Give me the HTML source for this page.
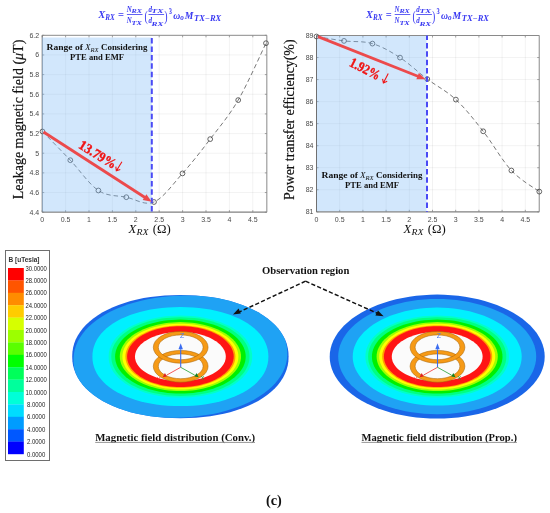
<!DOCTYPE html><html><head><meta charset="utf-8"><style>html,body{margin:0;padding:0;background:#fff;}svg{display:block;filter:blur(0.3px);}</style></head><body>
<svg width="550" height="513" viewBox="0 0 550 513">
<rect width="550" height="513" fill="#fff"/>
<path d="M65.60,35.30V212.20 M89.00,35.30V212.20 M112.40,35.30V212.20 M135.80,35.30V212.20 M159.20,35.30V212.20 M182.60,35.30V212.20 M206.00,35.30V212.20 M229.40,35.30V212.20 M252.80,35.30V212.20 M42.20,192.54H266.84 M42.20,172.89H266.84 M42.20,153.23H266.84 M42.20,133.58H266.84 M42.20,113.92H266.84 M42.20,94.27H266.84 M42.20,74.61H266.84 M42.20,54.96H266.84" stroke="rgba(0,0,0,0.065)" stroke-width="0.8" fill="none"/>
<path d="M42.20,212.20v-2 M42.20,35.30v2 M65.60,212.20v-2 M65.60,35.30v2 M89.00,212.20v-2 M89.00,35.30v2 M112.40,212.20v-2 M112.40,35.30v2 M135.80,212.20v-2 M135.80,35.30v2 M159.20,212.20v-2 M159.20,35.30v2 M182.60,212.20v-2 M182.60,35.30v2 M206.00,212.20v-2 M206.00,35.30v2 M229.40,212.20v-2 M229.40,35.30v2 M252.80,212.20v-2 M252.80,35.30v2 M42.20,212.20h2 M266.84,212.20h-2 M42.20,192.54h2 M266.84,192.54h-2 M42.20,172.89h2 M266.84,172.89h-2 M42.20,153.23h2 M266.84,153.23h-2 M42.20,133.58h2 M266.84,133.58h-2 M42.20,113.92h2 M266.84,113.92h-2 M42.20,94.27h2 M266.84,94.27h-2 M42.20,74.61h2 M266.84,74.61h-2 M42.20,54.96h2 M266.84,54.96h-2 M42.20,35.30h2 M266.84,35.30h-2" stroke="#8a8a8a" stroke-width="0.8" fill="none"/>
<path d="M42.20,35.30H266.84V212.20" stroke="#8a8a8a" stroke-width="1" fill="none"/>
<path d="M42.20,212.20H266.84" stroke="#808080" stroke-width="1.2" fill="none"/>
<path d="M42.20,35.30V212.20" stroke="#707070" stroke-width="1" fill="none"/>
<text x="39.2" y="214.70" font-family='"Liberation Sans", sans-serif' font-size="7" fill="#4a4a4a" font-weight="normal" font-style="normal" text-anchor="end" >4.4</text>
<text x="39.2" y="195.04" font-family='"Liberation Sans", sans-serif' font-size="7" fill="#4a4a4a" font-weight="normal" font-style="normal" text-anchor="end" >4.6</text>
<text x="39.2" y="175.39" font-family='"Liberation Sans", sans-serif' font-size="7" fill="#4a4a4a" font-weight="normal" font-style="normal" text-anchor="end" >4.8</text>
<text x="39.2" y="155.73" font-family='"Liberation Sans", sans-serif' font-size="7" fill="#4a4a4a" font-weight="normal" font-style="normal" text-anchor="end" >5</text>
<text x="39.2" y="136.08" font-family='"Liberation Sans", sans-serif' font-size="7" fill="#4a4a4a" font-weight="normal" font-style="normal" text-anchor="end" >5.2</text>
<text x="39.2" y="116.42" font-family='"Liberation Sans", sans-serif' font-size="7" fill="#4a4a4a" font-weight="normal" font-style="normal" text-anchor="end" >5.4</text>
<text x="39.2" y="96.77" font-family='"Liberation Sans", sans-serif' font-size="7" fill="#4a4a4a" font-weight="normal" font-style="normal" text-anchor="end" >5.6</text>
<text x="39.2" y="77.11" font-family='"Liberation Sans", sans-serif' font-size="7" fill="#4a4a4a" font-weight="normal" font-style="normal" text-anchor="end" >5.8</text>
<text x="39.2" y="57.46" font-family='"Liberation Sans", sans-serif' font-size="7" fill="#4a4a4a" font-weight="normal" font-style="normal" text-anchor="end" >6</text>
<text x="39.2" y="37.80" font-family='"Liberation Sans", sans-serif' font-size="7" fill="#4a4a4a" font-weight="normal" font-style="normal" text-anchor="end" >6.2</text>
<text x="42.20" y="221.90" font-family='"Liberation Sans", sans-serif' font-size="7" fill="#4a4a4a" font-weight="normal" font-style="normal" text-anchor="middle" >0</text>
<text x="65.60" y="221.90" font-family='"Liberation Sans", sans-serif' font-size="7" fill="#4a4a4a" font-weight="normal" font-style="normal" text-anchor="middle" >0.5</text>
<text x="89.00" y="221.90" font-family='"Liberation Sans", sans-serif' font-size="7" fill="#4a4a4a" font-weight="normal" font-style="normal" text-anchor="middle" >1</text>
<text x="112.40" y="221.90" font-family='"Liberation Sans", sans-serif' font-size="7" fill="#4a4a4a" font-weight="normal" font-style="normal" text-anchor="middle" >1.5</text>
<text x="135.80" y="221.90" font-family='"Liberation Sans", sans-serif' font-size="7" fill="#4a4a4a" font-weight="normal" font-style="normal" text-anchor="middle" >2</text>
<text x="159.20" y="221.90" font-family='"Liberation Sans", sans-serif' font-size="7" fill="#4a4a4a" font-weight="normal" font-style="normal" text-anchor="middle" >2.5</text>
<text x="182.60" y="221.90" font-family='"Liberation Sans", sans-serif' font-size="7" fill="#4a4a4a" font-weight="normal" font-style="normal" text-anchor="middle" >3</text>
<text x="206.00" y="221.90" font-family='"Liberation Sans", sans-serif' font-size="7" fill="#4a4a4a" font-weight="normal" font-style="normal" text-anchor="middle" >3.5</text>
<text x="229.40" y="221.90" font-family='"Liberation Sans", sans-serif' font-size="7" fill="#4a4a4a" font-weight="normal" font-style="normal" text-anchor="middle" >4</text>
<text x="252.80" y="221.90" font-family='"Liberation Sans", sans-serif' font-size="7" fill="#4a4a4a" font-weight="normal" font-style="normal" text-anchor="middle" >4.5</text>
<path d="M42.50,131.50 C47.13,136.28 60.98,150.37 70.30,160.20 C79.62,170.03 89.07,184.33 98.40,190.50 C107.73,196.67 117.03,195.28 126.30,197.20 C135.57,199.12 144.63,205.97 154.00,202.00 C163.37,198.03 173.13,183.88 182.50,173.40 C191.87,162.92 200.92,151.32 210.20,139.10 C219.48,126.88 228.90,116.08 238.20,100.10 C247.50,84.12 261.37,52.68 266.00,43.20" stroke="#555" stroke-width="0.8" fill="none" stroke-dasharray="4.5 3"/>
<circle cx="42.5" cy="131.5" r="2.4" stroke="#404040" stroke-width="0.8" fill="none"/>
<circle cx="70.3" cy="160.2" r="2.4" stroke="#404040" stroke-width="0.8" fill="none"/>
<circle cx="98.4" cy="190.5" r="2.4" stroke="#404040" stroke-width="0.8" fill="none"/>
<circle cx="126.3" cy="197.2" r="2.4" stroke="#404040" stroke-width="0.8" fill="none"/>
<circle cx="154" cy="202" r="2.4" stroke="#404040" stroke-width="0.8" fill="none"/>
<circle cx="182.5" cy="173.4" r="2.4" stroke="#404040" stroke-width="0.8" fill="none"/>
<circle cx="210.2" cy="139.1" r="2.4" stroke="#404040" stroke-width="0.8" fill="none"/>
<circle cx="238.2" cy="100.1" r="2.4" stroke="#404040" stroke-width="0.8" fill="none"/>
<circle cx="266" cy="43.2" r="2.4" stroke="#404040" stroke-width="0.8" fill="none"/>
<rect x="42.0" y="37.5" width="109.80000000000001" height="174.1" fill="rgb(126,186,246)" fill-opacity="0.35"/>
<path d="M151.8,35.3V212.2" stroke="#4a4af5" stroke-width="2" stroke-dasharray="5.5 2.9" stroke-dashoffset="5.6" fill="none"/>
<path d="M43.5,132L145.40,197.73" stroke="#ec4a4c" stroke-width="2.8" fill="none"/>
<path d="M151.7,201.8L142.71,200.05L146.40,194.34Z" fill="#ec4a4c"/>
<text transform="translate(22.8,199.2) rotate(-90)" font-family='"Liberation Serif", serif' font-size="14.5" fill="#111" stroke="#111" stroke-width="0.2" textLength="159.5" lengthAdjust="spacingAndGlyphs">Leakage magnetic field (<tspan font-style="italic">μ</tspan>T)</text>
<text x="128.6" y="232.6" font-family='"Liberation Serif", serif' font-size="13" fill="#111" font-weight="normal" font-style="italic" text-anchor="start" textLength="7.8" lengthAdjust="spacingAndGlyphs" >X</text>
<text x="136.4" y="234.6" font-family='"Liberation Serif", serif' font-size="9" fill="#111" font-weight="normal" font-style="italic" text-anchor="start" textLength="12" lengthAdjust="spacingAndGlyphs" >RX</text>
<text x="152.79999999999998" y="232.6" font-family='"Liberation Serif", serif' font-size="13" fill="#111" font-weight="normal" font-style="normal" text-anchor="start" textLength="18" lengthAdjust="spacingAndGlyphs" >(Ω)</text>
<text x="46.5" y="50.2" font-family='"Liberation Serif", serif' font-size="9.2" fill="#111" font-weight="bold" font-style="normal" text-anchor="start" textLength="36.5" lengthAdjust="spacingAndGlyphs" >Range of</text>
<text x="85.0" y="50.2" font-family='"Liberation Serif", serif' font-size="9.2" fill="#111" font-weight="normal" font-style="italic" text-anchor="start" textLength="5.6" lengthAdjust="spacingAndGlyphs" >X</text>
<text x="90.6" y="51.800000000000004" font-family='"Liberation Serif", serif' font-size="6.3" fill="#111" font-weight="normal" font-style="italic" text-anchor="start" textLength="8" lengthAdjust="spacingAndGlyphs" >RX</text>
<text x="101.0" y="50.2" font-family='"Liberation Serif", serif' font-size="9.2" fill="#111" font-weight="bold" font-style="normal" text-anchor="start" textLength="46.5" lengthAdjust="spacingAndGlyphs" >Considering</text>
<text x="97.0" y="60.2" font-family='"Liberation Serif", serif' font-size="9.2" fill="#111" font-weight="bold" font-style="normal" text-anchor="middle" textLength="54" lengthAdjust="spacingAndGlyphs" >PTE and EMF</text>
<g transform="translate(77.8,147.6) rotate(31.5)"><text x="0" y="0" font-family='"Liberation Serif", serif' font-size="13.8" font-weight="bold" fill="#f01515" stroke="#f01515" stroke-width="0.4" textLength="41.5" lengthAdjust="spacingAndGlyphs">13.79%</text><path d="M45,-11 V-0.5 M42.4,-3.6 L45,-0.3 L47.6,-3.6" stroke="#f01515" stroke-width="1.1" fill="none"/></g>
<path d="M339.70,35.50V211.80 M362.90,35.50V211.80 M386.10,35.50V211.80 M409.30,35.50V211.80 M432.50,35.50V211.80 M455.70,35.50V211.80 M478.90,35.50V211.80 M502.10,35.50V211.80 M525.30,35.50V211.80 M316.50,189.76H539.22 M316.50,167.73H539.22 M316.50,145.69H539.22 M316.50,123.65H539.22 M316.50,101.61H539.22 M316.50,79.57H539.22 M316.50,57.54H539.22" stroke="rgba(0,0,0,0.065)" stroke-width="0.8" fill="none"/>
<path d="M316.50,211.80v-2 M316.50,35.50v2 M339.70,211.80v-2 M339.70,35.50v2 M362.90,211.80v-2 M362.90,35.50v2 M386.10,211.80v-2 M386.10,35.50v2 M409.30,211.80v-2 M409.30,35.50v2 M432.50,211.80v-2 M432.50,35.50v2 M455.70,211.80v-2 M455.70,35.50v2 M478.90,211.80v-2 M478.90,35.50v2 M502.10,211.80v-2 M502.10,35.50v2 M525.30,211.80v-2 M525.30,35.50v2 M316.50,211.80h2 M539.22,211.80h-2 M316.50,189.76h2 M539.22,189.76h-2 M316.50,167.73h2 M539.22,167.73h-2 M316.50,145.69h2 M539.22,145.69h-2 M316.50,123.65h2 M539.22,123.65h-2 M316.50,101.61h2 M539.22,101.61h-2 M316.50,79.57h2 M539.22,79.57h-2 M316.50,57.54h2 M539.22,57.54h-2 M316.50,35.50h2 M539.22,35.50h-2" stroke="#8a8a8a" stroke-width="0.8" fill="none"/>
<path d="M316.50,35.50H539.22V211.80" stroke="#8a8a8a" stroke-width="1" fill="none"/>
<path d="M316.50,211.80H539.22" stroke="#808080" stroke-width="1.2" fill="none"/>
<path d="M316.50,35.50V211.80" stroke="#707070" stroke-width="1" fill="none"/>
<text x="313.5" y="214.30" font-family='"Liberation Sans", sans-serif' font-size="7" fill="#4a4a4a" font-weight="normal" font-style="normal" text-anchor="end" >81</text>
<text x="313.5" y="192.26" font-family='"Liberation Sans", sans-serif' font-size="7" fill="#4a4a4a" font-weight="normal" font-style="normal" text-anchor="end" >82</text>
<text x="313.5" y="170.23" font-family='"Liberation Sans", sans-serif' font-size="7" fill="#4a4a4a" font-weight="normal" font-style="normal" text-anchor="end" >83</text>
<text x="313.5" y="148.19" font-family='"Liberation Sans", sans-serif' font-size="7" fill="#4a4a4a" font-weight="normal" font-style="normal" text-anchor="end" >84</text>
<text x="313.5" y="126.15" font-family='"Liberation Sans", sans-serif' font-size="7" fill="#4a4a4a" font-weight="normal" font-style="normal" text-anchor="end" >85</text>
<text x="313.5" y="104.11" font-family='"Liberation Sans", sans-serif' font-size="7" fill="#4a4a4a" font-weight="normal" font-style="normal" text-anchor="end" >86</text>
<text x="313.5" y="82.07" font-family='"Liberation Sans", sans-serif' font-size="7" fill="#4a4a4a" font-weight="normal" font-style="normal" text-anchor="end" >87</text>
<text x="313.5" y="60.04" font-family='"Liberation Sans", sans-serif' font-size="7" fill="#4a4a4a" font-weight="normal" font-style="normal" text-anchor="end" >88</text>
<text x="313.5" y="38.00" font-family='"Liberation Sans", sans-serif' font-size="7" fill="#4a4a4a" font-weight="normal" font-style="normal" text-anchor="end" >89</text>
<text x="316.50" y="221.50" font-family='"Liberation Sans", sans-serif' font-size="7" fill="#4a4a4a" font-weight="normal" font-style="normal" text-anchor="middle" >0</text>
<text x="339.70" y="221.50" font-family='"Liberation Sans", sans-serif' font-size="7" fill="#4a4a4a" font-weight="normal" font-style="normal" text-anchor="middle" >0.5</text>
<text x="362.90" y="221.50" font-family='"Liberation Sans", sans-serif' font-size="7" fill="#4a4a4a" font-weight="normal" font-style="normal" text-anchor="middle" >1</text>
<text x="386.10" y="221.50" font-family='"Liberation Sans", sans-serif' font-size="7" fill="#4a4a4a" font-weight="normal" font-style="normal" text-anchor="middle" >1.5</text>
<text x="409.30" y="221.50" font-family='"Liberation Sans", sans-serif' font-size="7" fill="#4a4a4a" font-weight="normal" font-style="normal" text-anchor="middle" >2</text>
<text x="432.50" y="221.50" font-family='"Liberation Sans", sans-serif' font-size="7" fill="#4a4a4a" font-weight="normal" font-style="normal" text-anchor="middle" >2.5</text>
<text x="455.70" y="221.50" font-family='"Liberation Sans", sans-serif' font-size="7" fill="#4a4a4a" font-weight="normal" font-style="normal" text-anchor="middle" >3</text>
<text x="478.90" y="221.50" font-family='"Liberation Sans", sans-serif' font-size="7" fill="#4a4a4a" font-weight="normal" font-style="normal" text-anchor="middle" >3.5</text>
<text x="502.10" y="221.50" font-family='"Liberation Sans", sans-serif' font-size="7" fill="#4a4a4a" font-weight="normal" font-style="normal" text-anchor="middle" >4</text>
<text x="525.30" y="221.50" font-family='"Liberation Sans", sans-serif' font-size="7" fill="#4a4a4a" font-weight="normal" font-style="normal" text-anchor="middle" >4.5</text>
<path d="M316.50,36.50 C321.08,37.23 334.68,39.72 344.00,40.90 C353.32,42.08 363.07,40.82 372.40,43.60 C381.73,46.38 390.85,51.68 400.00,57.60 C409.15,63.52 417.98,72.10 427.30,79.10 C436.62,86.10 446.58,90.90 455.90,99.60 C465.22,108.30 473.95,119.48 483.20,131.30 C492.45,143.12 502.05,160.45 511.40,170.50 C520.75,180.55 534.65,188.08 539.30,191.60" stroke="#555" stroke-width="0.8" fill="none" stroke-dasharray="4.5 3"/>
<circle cx="316.5" cy="36.5" r="2.4" stroke="#404040" stroke-width="0.8" fill="none"/>
<circle cx="344" cy="40.9" r="2.4" stroke="#404040" stroke-width="0.8" fill="none"/>
<circle cx="372.4" cy="43.6" r="2.4" stroke="#404040" stroke-width="0.8" fill="none"/>
<circle cx="400" cy="57.6" r="2.4" stroke="#404040" stroke-width="0.8" fill="none"/>
<circle cx="427.3" cy="79.1" r="2.4" stroke="#404040" stroke-width="0.8" fill="none"/>
<circle cx="455.9" cy="99.6" r="2.4" stroke="#404040" stroke-width="0.8" fill="none"/>
<circle cx="483.2" cy="131.3" r="2.4" stroke="#404040" stroke-width="0.8" fill="none"/>
<circle cx="511.4" cy="170.5" r="2.4" stroke="#404040" stroke-width="0.8" fill="none"/>
<circle cx="539.3" cy="191.6" r="2.4" stroke="#404040" stroke-width="0.8" fill="none"/>
<rect x="317.0" y="36.0" width="109.5" height="175.20000000000002" fill="rgb(126,186,246)" fill-opacity="0.35"/>
<path d="M427.0,35.5V211.8" stroke="#4a4af5" stroke-width="2" stroke-dasharray="5.5 2.9" stroke-dashoffset="1.0" fill="none"/>
<path d="M318,36.6L418.53,76.53" stroke="#ec4a4c" stroke-width="2.8" fill="none"/>
<path d="M425.5,79.3L416.35,79.32L418.86,73.00Z" fill="#ec4a4c"/>
<text transform="translate(294.4,200.0) rotate(-90)" font-family='"Liberation Serif", serif' font-size="14.5" fill="#111" stroke="#111" stroke-width="0.2" textLength="160.5" lengthAdjust="spacingAndGlyphs">Power transfer efficiency(%)</text>
<text x="403.6" y="232.6" font-family='"Liberation Serif", serif' font-size="13" fill="#111" font-weight="normal" font-style="italic" text-anchor="start" textLength="7.8" lengthAdjust="spacingAndGlyphs" >X</text>
<text x="411.40000000000003" y="234.6" font-family='"Liberation Serif", serif' font-size="9" fill="#111" font-weight="normal" font-style="italic" text-anchor="start" textLength="12" lengthAdjust="spacingAndGlyphs" >RX</text>
<text x="427.8" y="232.6" font-family='"Liberation Serif", serif' font-size="13" fill="#111" font-weight="normal" font-style="normal" text-anchor="start" textLength="18" lengthAdjust="spacingAndGlyphs" >(Ω)</text>
<text x="321.5" y="178.2" font-family='"Liberation Serif", serif' font-size="9.2" fill="#111" font-weight="bold" font-style="normal" text-anchor="start" textLength="36.5" lengthAdjust="spacingAndGlyphs" >Range of</text>
<text x="360.0" y="178.2" font-family='"Liberation Serif", serif' font-size="9.2" fill="#111" font-weight="normal" font-style="italic" text-anchor="start" textLength="5.6" lengthAdjust="spacingAndGlyphs" >X</text>
<text x="365.6" y="179.79999999999998" font-family='"Liberation Serif", serif' font-size="6.3" fill="#111" font-weight="normal" font-style="italic" text-anchor="start" textLength="8" lengthAdjust="spacingAndGlyphs" >RX</text>
<text x="376.0" y="178.2" font-family='"Liberation Serif", serif' font-size="9.2" fill="#111" font-weight="bold" font-style="normal" text-anchor="start" textLength="46.5" lengthAdjust="spacingAndGlyphs" >Considering</text>
<text x="372.0" y="188.2" font-family='"Liberation Serif", serif' font-size="9.2" fill="#111" font-weight="bold" font-style="normal" text-anchor="middle" textLength="54" lengthAdjust="spacingAndGlyphs" >PTE and EMF</text>
<g transform="translate(348.5,65.5) rotate(27)"><text x="0" y="0" font-family='"Liberation Serif", serif' font-size="13.8" font-weight="bold" fill="#f01515" stroke="#f01515" stroke-width="0.4" textLength="32.5" lengthAdjust="spacingAndGlyphs">1.92%</text><path d="M39,-11 V-0.5 M36.4,-3.6 L39,-0.3 L41.6,-3.6" stroke="#f01515" stroke-width="1.1" fill="none"/></g>
<text x="98.30" y="18.00" font-family='"Liberation Serif", serif' font-size="10.8" fill="#3a3af2" font-weight="bold" font-style="italic" text-anchor="start" textLength="7.0" lengthAdjust="spacingAndGlyphs" >X</text>
<text x="105.20" y="20.20" font-family='"Liberation Serif", serif' font-size="7.2" fill="#3a3af2" font-weight="bold" font-style="italic" text-anchor="start" textLength="9.5" lengthAdjust="spacingAndGlyphs" >RX</text>
<text x="118.00" y="18.00" font-family='"Liberation Serif", serif' font-size="10.0" fill="#3a3af2" font-weight="bold" font-style="normal" text-anchor="start" textLength="6.0" lengthAdjust="spacingAndGlyphs" >=</text>
<text x="126.80" y="12.10" font-family='"Liberation Serif", serif' font-size="7.3" fill="#3a3af2" font-weight="bold" font-style="italic" text-anchor="start" textLength="5.0" lengthAdjust="spacingAndGlyphs" >N</text>
<text x="131.60" y="13.30" font-family='"Liberation Serif", serif' font-size="5.8" fill="#3a3af2" font-weight="bold" font-style="italic" text-anchor="start" textLength="10.4" lengthAdjust="spacingAndGlyphs" >RX</text>
<rect x="126.9" y="14.1" width="15.6" height="0.8" fill="#3a3af2"/>
<text x="126.80" y="22.60" font-family='"Liberation Serif", serif' font-size="7.3" fill="#3a3af2" font-weight="bold" font-style="italic" text-anchor="start" textLength="5.0" lengthAdjust="spacingAndGlyphs" >N</text>
<text x="131.60" y="24.90" font-family='"Liberation Serif", serif' font-size="5.8" fill="#3a3af2" font-weight="bold" font-style="italic" text-anchor="start" textLength="10.4" lengthAdjust="spacingAndGlyphs" >TX</text>
<text x="144.60" y="20.90" font-family='"Liberation Serif", serif' font-size="15.5" fill="#3a3af2" font-weight="normal" font-style="normal" text-anchor="start" textLength="3.3" lengthAdjust="spacingAndGlyphs" >(</text>
<text x="148.40" y="12.20" font-family='"Liberation Serif", serif' font-size="7.3" fill="#3a3af2" font-weight="bold" font-style="italic" text-anchor="start" textLength="3.5" lengthAdjust="spacingAndGlyphs" >d</text>
<text x="151.60" y="13.30" font-family='"Liberation Serif", serif' font-size="5.8" fill="#3a3af2" font-weight="bold" font-style="italic" text-anchor="start" textLength="11.8" lengthAdjust="spacingAndGlyphs" >TX</text>
<rect x="148.5" y="14.1" width="15.6" height="0.8" fill="#3a3af2"/>
<text x="148.40" y="23.00" font-family='"Liberation Serif", serif' font-size="7.3" fill="#3a3af2" font-weight="bold" font-style="italic" text-anchor="start" textLength="3.5" lengthAdjust="spacingAndGlyphs" >d</text>
<text x="151.60" y="25.50" font-family='"Liberation Serif", serif' font-size="5.8" fill="#3a3af2" font-weight="bold" font-style="italic" text-anchor="start" textLength="11.8" lengthAdjust="spacingAndGlyphs" >RX</text>
<text x="164.20" y="20.90" font-family='"Liberation Serif", serif' font-size="15.5" fill="#3a3af2" font-weight="normal" font-style="normal" text-anchor="start" textLength="3.3" lengthAdjust="spacingAndGlyphs" >)</text>
<text x="168.80" y="13.80" font-family='"Liberation Serif", serif' font-size="7.6" fill="#3a3af2" font-weight="bold" font-style="normal" text-anchor="start" textLength="3.2" lengthAdjust="spacingAndGlyphs" >3</text>
<text x="173.30" y="18.50" font-family='"Liberation Serif", serif' font-size="10.5" fill="#3a3af2" font-weight="bold" font-style="italic" text-anchor="start" textLength="7.0" lengthAdjust="spacingAndGlyphs" >ω</text>
<text x="180.30" y="20.20" font-family='"Liberation Serif", serif' font-size="7.6" fill="#3a3af2" font-weight="bold" font-style="italic" text-anchor="start" textLength="3.6" lengthAdjust="spacingAndGlyphs" >o</text>
<text x="184.80" y="18.50" font-family='"Liberation Serif", serif' font-size="10.5" fill="#3a3af2" font-weight="bold" font-style="italic" text-anchor="start" textLength="8.6" lengthAdjust="spacingAndGlyphs" >M</text>
<text x="194.00" y="20.50" font-family='"Liberation Serif", serif' font-size="7.2" fill="#3a3af2" font-weight="bold" font-style="italic" text-anchor="start" textLength="27.2" lengthAdjust="spacingAndGlyphs" >TX−RX</text>
<text x="366.10" y="18.00" font-family='"Liberation Serif", serif' font-size="10.8" fill="#3a3af2" font-weight="bold" font-style="italic" text-anchor="start" textLength="7.0" lengthAdjust="spacingAndGlyphs" >X</text>
<text x="373.00" y="20.20" font-family='"Liberation Serif", serif' font-size="7.2" fill="#3a3af2" font-weight="bold" font-style="italic" text-anchor="start" textLength="9.5" lengthAdjust="spacingAndGlyphs" >RX</text>
<text x="385.80" y="18.00" font-family='"Liberation Serif", serif' font-size="10.0" fill="#3a3af2" font-weight="bold" font-style="normal" text-anchor="start" textLength="6.0" lengthAdjust="spacingAndGlyphs" >=</text>
<text x="394.60" y="12.10" font-family='"Liberation Serif", serif' font-size="7.3" fill="#3a3af2" font-weight="bold" font-style="italic" text-anchor="start" textLength="5.0" lengthAdjust="spacingAndGlyphs" >N</text>
<text x="399.40" y="13.30" font-family='"Liberation Serif", serif' font-size="5.8" fill="#3a3af2" font-weight="bold" font-style="italic" text-anchor="start" textLength="10.4" lengthAdjust="spacingAndGlyphs" >RX</text>
<rect x="394.70000000000005" y="14.1" width="15.6" height="0.8" fill="#3a3af2"/>
<text x="394.60" y="22.60" font-family='"Liberation Serif", serif' font-size="7.3" fill="#3a3af2" font-weight="bold" font-style="italic" text-anchor="start" textLength="5.0" lengthAdjust="spacingAndGlyphs" >N</text>
<text x="399.40" y="24.90" font-family='"Liberation Serif", serif' font-size="5.8" fill="#3a3af2" font-weight="bold" font-style="italic" text-anchor="start" textLength="10.4" lengthAdjust="spacingAndGlyphs" >TX</text>
<text x="412.40" y="20.90" font-family='"Liberation Serif", serif' font-size="15.5" fill="#3a3af2" font-weight="normal" font-style="normal" text-anchor="start" textLength="3.3" lengthAdjust="spacingAndGlyphs" >(</text>
<text x="416.20" y="12.20" font-family='"Liberation Serif", serif' font-size="7.3" fill="#3a3af2" font-weight="bold" font-style="italic" text-anchor="start" textLength="3.5" lengthAdjust="spacingAndGlyphs" >d</text>
<text x="419.40" y="13.30" font-family='"Liberation Serif", serif' font-size="5.8" fill="#3a3af2" font-weight="bold" font-style="italic" text-anchor="start" textLength="11.8" lengthAdjust="spacingAndGlyphs" >TX</text>
<rect x="416.3" y="14.1" width="15.6" height="0.8" fill="#3a3af2"/>
<text x="416.20" y="23.00" font-family='"Liberation Serif", serif' font-size="7.3" fill="#3a3af2" font-weight="bold" font-style="italic" text-anchor="start" textLength="3.5" lengthAdjust="spacingAndGlyphs" >d</text>
<text x="419.40" y="25.50" font-family='"Liberation Serif", serif' font-size="5.8" fill="#3a3af2" font-weight="bold" font-style="italic" text-anchor="start" textLength="11.8" lengthAdjust="spacingAndGlyphs" >RX</text>
<text x="432.00" y="20.90" font-family='"Liberation Serif", serif' font-size="15.5" fill="#3a3af2" font-weight="normal" font-style="normal" text-anchor="start" textLength="3.3" lengthAdjust="spacingAndGlyphs" >)</text>
<text x="436.60" y="13.80" font-family='"Liberation Serif", serif' font-size="7.6" fill="#3a3af2" font-weight="bold" font-style="normal" text-anchor="start" textLength="3.2" lengthAdjust="spacingAndGlyphs" >3</text>
<text x="441.10" y="18.50" font-family='"Liberation Serif", serif' font-size="10.5" fill="#3a3af2" font-weight="bold" font-style="italic" text-anchor="start" textLength="7.0" lengthAdjust="spacingAndGlyphs" >ω</text>
<text x="448.10" y="20.20" font-family='"Liberation Serif", serif' font-size="7.6" fill="#3a3af2" font-weight="bold" font-style="italic" text-anchor="start" textLength="3.6" lengthAdjust="spacingAndGlyphs" >o</text>
<text x="452.60" y="18.50" font-family='"Liberation Serif", serif' font-size="10.5" fill="#3a3af2" font-weight="bold" font-style="italic" text-anchor="start" textLength="8.6" lengthAdjust="spacingAndGlyphs" >M</text>
<text x="461.80" y="20.50" font-family='"Liberation Serif", serif' font-size="7.2" fill="#3a3af2" font-weight="bold" font-style="italic" text-anchor="start" textLength="27.2" lengthAdjust="spacingAndGlyphs" >TX−RX</text>
<rect x="5.5" y="250.5" width="44" height="210" fill="#fff" stroke="#6e6e6e" stroke-width="1"/>
<text x="8.5" y="262" font-family='"Liberation Sans", sans-serif' font-size="6.6" fill="#333" font-weight="bold" font-style="normal" text-anchor="start" textLength="31" lengthAdjust="spacingAndGlyphs" >B [uTesla]</text>
<rect x="8" y="268.00" width="15.8" height="12.6" fill="#ff0000"/>
<rect x="8" y="280.40" width="15.8" height="12.6" fill="#ff5500"/>
<rect x="8" y="292.80" width="15.8" height="12.6" fill="#ff8c00"/>
<rect x="8" y="305.20" width="15.8" height="12.6" fill="#ffcc00"/>
<rect x="8" y="317.60" width="15.8" height="12.6" fill="#d6ff00"/>
<rect x="8" y="330.00" width="15.8" height="12.6" fill="#9cff00"/>
<rect x="8" y="342.40" width="15.8" height="12.6" fill="#5aff00"/>
<rect x="8" y="354.80" width="15.8" height="12.6" fill="#00ff00"/>
<rect x="8" y="367.20" width="15.8" height="12.6" fill="#00ff5a"/>
<rect x="8" y="379.60" width="15.8" height="12.6" fill="#00ff9c"/>
<rect x="8" y="392.00" width="15.8" height="12.6" fill="#00ffd8"/>
<rect x="8" y="404.40" width="15.8" height="12.6" fill="#00dcff"/>
<rect x="8" y="416.80" width="15.8" height="12.6" fill="#009cff"/>
<rect x="8" y="429.20" width="15.8" height="12.6" fill="#0058ff"/>
<rect x="8" y="441.60" width="15.8" height="12.6" fill="#0000ff"/>
<text x="36.1" y="270.60" font-family='"Liberation Sans", sans-serif' font-size="7" fill="#222" font-weight="normal" font-style="normal" text-anchor="middle" textLength="21.3" lengthAdjust="spacingAndGlyphs" >30.0000</text>
<text x="36.1" y="283.00" font-family='"Liberation Sans", sans-serif' font-size="7" fill="#222" font-weight="normal" font-style="normal" text-anchor="middle" textLength="21.3" lengthAdjust="spacingAndGlyphs" >28.0000</text>
<text x="36.1" y="295.40" font-family='"Liberation Sans", sans-serif' font-size="7" fill="#222" font-weight="normal" font-style="normal" text-anchor="middle" textLength="21.3" lengthAdjust="spacingAndGlyphs" >26.0000</text>
<text x="36.1" y="307.80" font-family='"Liberation Sans", sans-serif' font-size="7" fill="#222" font-weight="normal" font-style="normal" text-anchor="middle" textLength="21.3" lengthAdjust="spacingAndGlyphs" >24.0000</text>
<text x="36.1" y="320.20" font-family='"Liberation Sans", sans-serif' font-size="7" fill="#222" font-weight="normal" font-style="normal" text-anchor="middle" textLength="21.3" lengthAdjust="spacingAndGlyphs" >22.0000</text>
<text x="36.1" y="332.60" font-family='"Liberation Sans", sans-serif' font-size="7" fill="#222" font-weight="normal" font-style="normal" text-anchor="middle" textLength="21.3" lengthAdjust="spacingAndGlyphs" >20.0000</text>
<text x="36.1" y="345.00" font-family='"Liberation Sans", sans-serif' font-size="7" fill="#222" font-weight="normal" font-style="normal" text-anchor="middle" textLength="21.3" lengthAdjust="spacingAndGlyphs" >18.0000</text>
<text x="36.1" y="357.40" font-family='"Liberation Sans", sans-serif' font-size="7" fill="#222" font-weight="normal" font-style="normal" text-anchor="middle" textLength="21.3" lengthAdjust="spacingAndGlyphs" >16.0000</text>
<text x="36.1" y="369.80" font-family='"Liberation Sans", sans-serif' font-size="7" fill="#222" font-weight="normal" font-style="normal" text-anchor="middle" textLength="21.3" lengthAdjust="spacingAndGlyphs" >14.0000</text>
<text x="36.1" y="382.20" font-family='"Liberation Sans", sans-serif' font-size="7" fill="#222" font-weight="normal" font-style="normal" text-anchor="middle" textLength="21.3" lengthAdjust="spacingAndGlyphs" >12.0000</text>
<text x="36.1" y="394.60" font-family='"Liberation Sans", sans-serif' font-size="7" fill="#222" font-weight="normal" font-style="normal" text-anchor="middle" textLength="21.3" lengthAdjust="spacingAndGlyphs" >10.0000</text>
<text x="36.1" y="407.00" font-family='"Liberation Sans", sans-serif' font-size="7" fill="#222" font-weight="normal" font-style="normal" text-anchor="middle" textLength="18.3" lengthAdjust="spacingAndGlyphs" >8.0000</text>
<text x="36.1" y="419.40" font-family='"Liberation Sans", sans-serif' font-size="7" fill="#222" font-weight="normal" font-style="normal" text-anchor="middle" textLength="18.3" lengthAdjust="spacingAndGlyphs" >6.0000</text>
<text x="36.1" y="431.80" font-family='"Liberation Sans", sans-serif' font-size="7" fill="#222" font-weight="normal" font-style="normal" text-anchor="middle" textLength="18.3" lengthAdjust="spacingAndGlyphs" >4.0000</text>
<text x="36.1" y="444.20" font-family='"Liberation Sans", sans-serif' font-size="7" fill="#222" font-weight="normal" font-style="normal" text-anchor="middle" textLength="18.3" lengthAdjust="spacingAndGlyphs" >2.0000</text>
<text x="36.1" y="456.60" font-family='"Liberation Sans", sans-serif' font-size="7" fill="#222" font-weight="normal" font-style="normal" text-anchor="middle" textLength="18.3" lengthAdjust="spacingAndGlyphs" >0.0000</text>
<defs><clipPath id="cl1"><path d="M288.60,356.60 L288.38,361.19 L287.72,365.46 L286.62,369.59 L285.09,373.60 L283.12,377.50 L280.74,381.28 L277.95,384.92 L274.75,388.43 L271.16,391.79 L267.19,395.00 L262.86,398.03 L258.18,400.88 L253.17,403.55 L247.84,406.01 L242.22,408.27 L236.32,410.31 L230.15,412.13 L223.74,413.73 L217.11,415.08 L210.27,416.20 L203.22,417.07 L195.96,417.70 L188.46,418.07 L180.40,418.20 L172.34,418.07 L164.84,417.70 L157.58,417.07 L150.53,416.20 L143.69,415.08 L137.06,413.73 L130.65,412.13 L124.48,410.31 L118.58,408.27 L112.96,406.01 L107.63,403.55 L102.62,400.88 L97.94,398.03 L93.61,395.00 L89.64,391.79 L86.05,388.43 L82.85,384.92 L80.06,381.28 L77.68,377.50 L75.71,373.60 L74.18,369.59 L73.08,365.46 L72.42,361.19 L72.20,356.60 L72.42,352.01 L73.08,347.74 L74.18,343.61 L75.71,339.60 L77.68,335.70 L80.06,331.92 L82.85,328.28 L86.05,324.77 L89.64,321.41 L93.61,318.20 L97.94,315.17 L102.62,312.32 L107.63,309.65 L112.96,307.19 L118.58,304.93 L124.48,302.89 L130.65,301.07 L137.06,299.47 L143.69,298.12 L150.53,297.00 L157.58,296.13 L164.84,295.50 L172.34,295.13 L180.40,295.00 L188.46,295.13 L195.96,295.50 L203.22,296.13 L210.27,297.00 L217.11,298.12 L223.74,299.47 L230.15,301.07 L236.32,302.89 L242.22,304.93 L247.84,307.19 L253.17,309.65 L258.18,312.32 L262.86,315.17 L267.19,318.20 L271.16,321.41 L274.75,324.77 L277.95,328.28 L280.74,331.92 L283.12,335.70 L285.09,339.60 L286.62,343.61 L287.72,347.74 L288.38,352.01Z"/></clipPath></defs>
<path d="M288.60,356.60 L288.38,361.19 L287.72,365.46 L286.62,369.59 L285.09,373.60 L283.12,377.50 L280.74,381.28 L277.95,384.92 L274.75,388.43 L271.16,391.79 L267.19,395.00 L262.86,398.03 L258.18,400.88 L253.17,403.55 L247.84,406.01 L242.22,408.27 L236.32,410.31 L230.15,412.13 L223.74,413.73 L217.11,415.08 L210.27,416.20 L203.22,417.07 L195.96,417.70 L188.46,418.07 L180.40,418.20 L172.34,418.07 L164.84,417.70 L157.58,417.07 L150.53,416.20 L143.69,415.08 L137.06,413.73 L130.65,412.13 L124.48,410.31 L118.58,408.27 L112.96,406.01 L107.63,403.55 L102.62,400.88 L97.94,398.03 L93.61,395.00 L89.64,391.79 L86.05,388.43 L82.85,384.92 L80.06,381.28 L77.68,377.50 L75.71,373.60 L74.18,369.59 L73.08,365.46 L72.42,361.19 L72.20,356.60 L72.42,352.01 L73.08,347.74 L74.18,343.61 L75.71,339.60 L77.68,335.70 L80.06,331.92 L82.85,328.28 L86.05,324.77 L89.64,321.41 L93.61,318.20 L97.94,315.17 L102.62,312.32 L107.63,309.65 L112.96,307.19 L118.58,304.93 L124.48,302.89 L130.65,301.07 L137.06,299.47 L143.69,298.12 L150.53,297.00 L157.58,296.13 L164.84,295.50 L172.34,295.13 L180.40,295.00 L188.46,295.13 L195.96,295.50 L203.22,296.13 L210.27,297.00 L217.11,298.12 L223.74,299.47 L230.15,301.07 L236.32,302.89 L242.22,304.93 L247.84,307.19 L253.17,309.65 L258.18,312.32 L262.86,315.17 L267.19,318.20 L271.16,321.41 L274.75,324.77 L277.95,328.28 L280.74,331.92 L283.12,335.70 L285.09,339.60 L286.62,343.61 L287.72,347.74 L288.38,352.01Z" fill="#1a66e8"/>
<path d="M287.25,351.00 L287.27,355.54 L286.84,359.79 L285.97,363.93 L284.66,367.97 L282.93,371.92 L280.77,375.77 L278.20,379.52 L275.22,383.15 L271.85,386.65 L268.10,390.02 L263.98,393.23 L259.51,396.29 L254.69,399.18 L249.56,401.89 L244.12,404.41 L238.40,406.74 L232.41,408.85 L226.16,410.76 L219.68,412.44 L212.98,413.90 L206.06,415.12 L198.93,416.12 L191.54,416.88 L183.59,417.42 L175.62,417.71 L168.19,417.73 L161.00,417.48 L153.99,416.99 L147.17,416.24 L140.55,415.24 L134.14,414.00 L127.96,412.52 L122.02,410.81 L116.35,408.87 L110.96,406.72 L105.88,404.35 L101.11,401.77 L96.67,399.00 L92.59,396.04 L88.87,392.91 L85.53,389.61 L82.58,386.16 L80.04,382.55 L77.90,378.80 L76.18,374.92 L74.88,370.90 L74.00,366.72 L73.55,362.20 L73.53,357.66 L73.96,353.41 L74.83,349.27 L76.14,345.23 L77.87,341.28 L80.03,337.43 L82.60,333.68 L85.58,330.05 L88.95,326.55 L92.70,323.18 L96.82,319.97 L101.29,316.91 L106.11,314.02 L111.24,311.31 L116.68,308.79 L122.40,306.46 L128.39,304.35 L134.64,302.44 L141.12,300.76 L147.82,299.30 L154.74,298.08 L161.87,297.08 L169.26,296.32 L177.21,295.78 L185.18,295.49 L192.61,295.47 L199.80,295.72 L206.81,296.21 L213.63,296.96 L220.25,297.96 L226.66,299.20 L232.84,300.68 L238.78,302.39 L244.45,304.33 L249.84,306.48 L254.92,308.85 L259.69,311.43 L264.13,314.20 L268.21,317.16 L271.93,320.29 L275.27,323.59 L278.22,327.04 L280.76,330.65 L282.90,334.40 L284.62,338.28 L285.92,342.30 L286.80,346.48Z" fill="#1fa2f4" clip-path="url(#cl1)"/>
<path d="M268.40,356.60 L268.22,360.29 L267.68,363.72 L266.79,367.04 L265.54,370.26 L263.95,373.39 L262.01,376.43 L259.73,379.36 L257.13,382.18 L254.22,384.88 L250.99,387.45 L247.47,389.89 L243.66,392.18 L239.58,394.33 L235.25,396.31 L230.68,398.12 L225.88,399.76 L220.86,401.23 L215.65,402.50 L210.26,403.59 L204.69,404.49 L198.96,405.19 L193.06,405.70 L186.95,406.00 L180.40,406.10 L173.85,406.00 L167.74,405.70 L161.84,405.19 L156.11,404.49 L150.54,403.59 L145.15,402.50 L139.94,401.23 L134.92,399.76 L130.12,398.12 L125.55,396.31 L121.22,394.33 L117.14,392.18 L113.33,389.89 L109.81,387.45 L106.58,384.88 L103.67,382.18 L101.07,379.36 L98.79,376.43 L96.85,373.39 L95.26,370.26 L94.01,367.04 L93.12,363.72 L92.58,360.29 L92.40,356.60 L92.58,352.91 L93.12,349.48 L94.01,346.16 L95.26,342.94 L96.85,339.81 L98.79,336.77 L101.07,333.84 L103.67,331.02 L106.58,328.32 L109.81,325.75 L113.33,323.31 L117.14,321.02 L121.22,318.87 L125.55,316.89 L130.12,315.08 L134.92,313.44 L139.94,311.97 L145.15,310.70 L150.54,309.61 L156.11,308.71 L161.84,308.01 L167.74,307.50 L173.85,307.20 L180.40,307.10 L186.95,307.20 L193.06,307.50 L198.96,308.01 L204.69,308.71 L210.26,309.61 L215.65,310.70 L220.86,311.97 L225.88,313.44 L230.68,315.08 L235.25,316.89 L239.58,318.87 L243.66,321.02 L247.47,323.31 L250.99,325.75 L254.22,328.32 L257.13,331.02 L259.73,333.84 L262.01,336.77 L263.95,339.81 L265.54,342.94 L266.79,346.16 L267.68,349.48 L268.22,352.91Z" fill="#00f0ff"/>
<path d="M252.20,356.60 L252.05,359.47 L251.60,362.22 L250.85,364.92 L249.81,367.57 L248.48,370.15 L246.86,372.66 L244.97,375.10 L242.80,377.45 L240.37,379.71 L237.69,381.86 L234.76,383.91 L231.60,385.84 L228.22,387.64 L224.64,389.31 L220.87,390.84 L216.91,392.23 L212.79,393.47 L208.53,394.55 L204.13,395.48 L199.61,396.24 L194.98,396.83 L190.25,397.26 L185.42,397.51 L180.40,397.60 L175.38,397.51 L170.55,397.26 L165.82,396.83 L161.19,396.24 L156.67,395.48 L152.27,394.55 L148.01,393.47 L143.89,392.23 L139.93,390.84 L136.16,389.31 L132.58,387.64 L129.20,385.84 L126.04,383.91 L123.11,381.86 L120.43,379.71 L118.00,377.45 L115.83,375.10 L113.94,372.66 L112.32,370.15 L110.99,367.57 L109.95,364.92 L109.20,362.22 L108.75,359.47 L108.60,356.60 L108.75,353.73 L109.20,350.98 L109.95,348.28 L110.99,345.63 L112.32,343.05 L113.94,340.54 L115.83,338.10 L118.00,335.75 L120.43,333.49 L123.11,331.34 L126.04,329.29 L129.20,327.36 L132.58,325.56 L136.16,323.89 L139.93,322.36 L143.89,320.97 L148.01,319.73 L152.27,318.65 L156.67,317.72 L161.19,316.96 L165.82,316.37 L170.55,315.94 L175.38,315.69 L180.40,315.60 L185.42,315.69 L190.25,315.94 L194.98,316.37 L199.61,316.96 L204.13,317.72 L208.53,318.65 L212.79,319.73 L216.91,320.97 L220.87,322.36 L224.64,323.89 L228.22,325.56 L231.60,327.36 L234.76,329.29 L237.69,331.34 L240.37,333.49 L242.80,335.75 L244.97,338.10 L246.86,340.54 L248.48,343.05 L249.81,345.63 L250.85,348.28 L251.60,350.98 L252.05,353.73Z" fill="#00ffc8"/>
<path d="M249.50,356.60 L249.36,359.35 L248.92,361.99 L248.20,364.58 L247.20,367.11 L245.92,369.59 L244.36,372.00 L242.54,374.33 L240.45,376.59 L238.11,378.75 L235.53,380.82 L232.71,382.78 L229.68,384.63 L226.43,386.35 L222.98,387.96 L219.34,389.42 L215.54,390.75 L211.58,391.94 L207.47,392.98 L203.23,393.86 L198.88,394.59 L194.43,395.16 L189.88,395.57 L185.23,395.82 L180.40,395.90 L175.57,395.82 L170.92,395.57 L166.37,395.16 L161.92,394.59 L157.57,393.86 L153.33,392.98 L149.22,391.94 L145.26,390.75 L141.46,389.42 L137.82,387.96 L134.37,386.35 L131.12,384.63 L128.09,382.78 L125.27,380.82 L122.69,378.75 L120.35,376.59 L118.26,374.33 L116.44,372.00 L114.88,369.59 L113.60,367.11 L112.60,364.58 L111.88,361.99 L111.44,359.35 L111.30,356.60 L111.44,353.85 L111.88,351.21 L112.60,348.62 L113.60,346.09 L114.88,343.61 L116.44,341.20 L118.26,338.87 L120.35,336.61 L122.69,334.45 L125.27,332.38 L128.09,330.42 L131.12,328.57 L134.37,326.85 L137.82,325.24 L141.46,323.78 L145.26,322.45 L149.22,321.26 L153.33,320.22 L157.57,319.34 L161.92,318.61 L166.37,318.04 L170.92,317.63 L175.57,317.38 L180.40,317.30 L185.23,317.38 L189.88,317.63 L194.43,318.04 L198.88,318.61 L203.23,319.34 L207.47,320.22 L211.58,321.26 L215.54,322.45 L219.34,323.78 L222.98,325.24 L226.43,326.85 L229.68,328.57 L232.71,330.42 L235.53,332.38 L238.11,334.45 L240.45,336.61 L242.54,338.87 L244.36,341.20 L245.92,343.61 L247.20,346.09 L248.20,348.62 L248.92,351.21 L249.36,353.85Z" fill="#00ff82"/>
<path d="M245.70,356.60 L245.56,359.02 L245.14,361.43 L244.45,363.82 L243.47,366.18 L242.23,368.49 L240.73,370.76 L238.97,372.96 L236.95,375.10 L234.69,377.16 L232.21,379.12 L229.50,381.00 L226.57,382.76 L223.46,384.42 L220.15,385.95 L216.68,387.36 L213.05,388.64 L209.28,389.78 L205.39,390.78 L201.39,391.64 L197.30,392.34 L193.14,392.89 L188.92,393.28 L184.67,393.52 L180.40,393.60 L176.13,393.52 L171.88,393.28 L167.66,392.89 L163.50,392.34 L159.41,391.64 L155.41,390.78 L151.52,389.78 L147.75,388.64 L144.12,387.36 L140.65,385.95 L137.34,384.42 L134.23,382.76 L131.30,381.00 L128.59,379.12 L126.11,377.16 L123.85,375.10 L121.83,372.96 L120.07,370.76 L118.57,368.49 L117.33,366.18 L116.35,363.82 L115.66,361.43 L115.24,359.02 L115.10,356.60 L115.24,354.18 L115.66,351.77 L116.35,349.38 L117.33,347.02 L118.57,344.71 L120.07,342.44 L121.83,340.24 L123.85,338.10 L126.11,336.04 L128.59,334.08 L131.30,332.20 L134.23,330.44 L137.34,328.78 L140.65,327.25 L144.12,325.84 L147.75,324.56 L151.52,323.42 L155.41,322.42 L159.41,321.56 L163.50,320.86 L167.66,320.31 L171.88,319.92 L176.13,319.68 L180.40,319.60 L184.67,319.68 L188.92,319.92 L193.14,320.31 L197.30,320.86 L201.39,321.56 L205.39,322.42 L209.28,323.42 L213.05,324.56 L216.68,325.84 L220.15,327.25 L223.46,328.78 L226.57,330.44 L229.50,332.20 L232.21,334.08 L234.69,336.04 L236.95,338.10 L238.97,340.24 L240.73,342.44 L242.23,344.71 L243.47,347.02 L244.45,349.38 L245.14,351.77 L245.56,354.18Z" fill="#00f000"/>
<path d="M241.00,356.60 L240.87,358.86 L240.48,361.10 L239.84,363.33 L238.94,365.53 L237.78,367.69 L236.39,369.80 L234.75,371.86 L232.88,373.85 L230.79,375.77 L228.48,377.60 L225.96,379.35 L223.25,381.00 L220.36,382.54 L217.29,383.97 L214.07,385.29 L210.70,386.48 L207.20,387.54 L203.59,388.47 L199.88,389.27 L196.08,389.92 L192.22,390.44 L188.31,390.80 L184.36,391.03 L180.40,391.10 L176.44,391.03 L172.49,390.80 L168.58,390.44 L164.72,389.92 L160.92,389.27 L157.21,388.47 L153.60,387.54 L150.10,386.48 L146.73,385.29 L143.51,383.97 L140.44,382.54 L137.55,381.00 L134.84,379.35 L132.32,377.60 L130.01,375.77 L127.92,373.85 L126.05,371.86 L124.41,369.80 L123.02,367.69 L121.86,365.53 L120.96,363.33 L120.32,361.10 L119.93,358.86 L119.80,356.60 L119.93,354.34 L120.32,352.10 L120.96,349.87 L121.86,347.67 L123.02,345.51 L124.41,343.40 L126.05,341.34 L127.92,339.35 L130.01,337.43 L132.32,335.60 L134.84,333.85 L137.55,332.20 L140.44,330.66 L143.51,329.23 L146.73,327.91 L150.10,326.72 L153.60,325.66 L157.21,324.73 L160.92,323.93 L164.72,323.28 L168.58,322.76 L172.49,322.40 L176.44,322.17 L180.40,322.10 L184.36,322.17 L188.31,322.40 L192.22,322.76 L196.08,323.28 L199.88,323.93 L203.59,324.73 L207.20,325.66 L210.70,326.72 L214.07,327.91 L217.29,329.23 L220.36,330.66 L223.25,332.20 L225.96,333.85 L228.48,335.60 L230.79,337.43 L232.88,339.35 L234.75,341.34 L236.39,343.40 L237.78,345.51 L238.94,347.67 L239.84,349.87 L240.48,352.10 L240.87,354.34Z" fill="#a0ff00"/>
<path d="M238.40,356.60 L238.28,358.75 L237.90,360.89 L237.29,363.02 L236.42,365.12 L235.32,367.18 L233.99,369.19 L232.42,371.15 L230.63,373.05 L228.63,374.88 L226.41,376.63 L224.01,378.29 L221.41,379.86 L218.64,381.34 L215.71,382.70 L212.62,383.96 L209.40,385.09 L206.05,386.11 L202.60,387.00 L199.04,387.75 L195.41,388.38 L191.72,388.87 L187.97,389.22 L184.19,389.43 L180.40,389.50 L176.61,389.43 L172.83,389.22 L169.08,388.87 L165.39,388.38 L161.76,387.75 L158.20,387.00 L154.75,386.11 L151.40,385.09 L148.18,383.96 L145.09,382.70 L142.16,381.34 L139.39,379.86 L136.79,378.29 L134.39,376.63 L132.17,374.88 L130.17,373.05 L128.38,371.15 L126.81,369.19 L125.48,367.18 L124.38,365.12 L123.51,363.02 L122.90,360.89 L122.52,358.75 L122.40,356.60 L122.52,354.45 L122.90,352.31 L123.51,350.18 L124.38,348.08 L125.48,346.02 L126.81,344.01 L128.38,342.05 L130.17,340.15 L132.17,338.32 L134.39,336.57 L136.79,334.91 L139.39,333.34 L142.16,331.86 L145.09,330.50 L148.18,329.24 L151.40,328.11 L154.75,327.09 L158.20,326.20 L161.76,325.45 L165.39,324.82 L169.08,324.33 L172.83,323.98 L176.61,323.77 L180.40,323.70 L184.19,323.77 L187.97,323.98 L191.72,324.33 L195.41,324.82 L199.04,325.45 L202.60,326.20 L206.05,327.09 L209.40,328.11 L212.62,329.24 L215.71,330.50 L218.64,331.86 L221.41,333.34 L224.01,334.91 L226.41,336.57 L228.63,338.32 L230.63,340.15 L232.42,342.05 L233.99,344.01 L235.32,346.02 L236.42,348.08 L237.29,350.18 L237.90,352.31 L238.28,354.45Z" fill="#ffff00"/>
<path d="M235.40,356.60 L235.28,358.64 L234.93,360.67 L234.34,362.69 L233.53,364.68 L232.48,366.63 L231.21,368.54 L229.73,370.40 L228.03,372.20 L226.13,373.93 L224.03,375.59 L221.75,377.17 L219.29,378.66 L216.66,380.06 L213.88,381.35 L210.96,382.54 L207.90,383.62 L204.73,384.58 L201.45,385.43 L198.08,386.14 L194.64,386.74 L191.13,387.20 L187.58,387.53 L184.00,387.73 L180.40,387.80 L176.80,387.73 L173.22,387.53 L169.67,387.20 L166.16,386.74 L162.72,386.14 L159.35,385.43 L156.07,384.58 L152.90,383.62 L149.84,382.54 L146.92,381.35 L144.14,380.06 L141.51,378.66 L139.05,377.17 L136.77,375.59 L134.67,373.93 L132.77,372.20 L131.07,370.40 L129.59,368.54 L128.32,366.63 L127.27,364.68 L126.46,362.69 L125.87,360.67 L125.52,358.64 L125.40,356.60 L125.52,354.56 L125.87,352.53 L126.46,350.51 L127.27,348.52 L128.32,346.57 L129.59,344.66 L131.07,342.80 L132.77,341.00 L134.67,339.27 L136.77,337.61 L139.05,336.03 L141.51,334.54 L144.14,333.14 L146.92,331.85 L149.84,330.66 L152.90,329.58 L156.07,328.62 L159.35,327.77 L162.72,327.06 L166.16,326.46 L169.67,326.00 L173.22,325.67 L176.80,325.47 L180.40,325.40 L184.00,325.47 L187.58,325.67 L191.13,326.00 L194.64,326.46 L198.08,327.06 L201.45,327.77 L204.73,328.62 L207.90,329.58 L210.96,330.66 L213.88,331.85 L216.66,333.14 L219.29,334.54 L221.75,336.03 L224.03,337.61 L226.13,339.27 L228.03,341.00 L229.73,342.80 L231.21,344.66 L232.48,346.57 L233.53,348.52 L234.34,350.51 L234.93,352.53 L235.28,354.56Z" fill="#ffa000"/>
<path d="M233.70,356.60 L233.59,358.59 L233.24,360.57 L232.68,362.53 L231.88,364.47 L230.87,366.37 L229.64,368.23 L228.20,370.05 L226.56,371.80 L224.72,373.49 L222.69,375.11 L220.47,376.64 L218.09,378.10 L215.54,379.46 L212.85,380.72 L210.01,381.88 L207.05,382.93 L203.97,383.86 L200.80,384.69 L197.53,385.39 L194.20,385.96 L190.80,386.42 L187.36,386.74 L183.89,386.93 L180.40,387.00 L176.91,386.93 L173.44,386.74 L170.00,386.42 L166.60,385.96 L163.27,385.39 L160.00,384.69 L156.83,383.86 L153.75,382.93 L150.79,381.88 L147.95,380.72 L145.26,379.46 L142.71,378.10 L140.33,376.64 L138.11,375.11 L136.08,373.49 L134.24,371.80 L132.60,370.05 L131.16,368.23 L129.93,366.37 L128.92,364.47 L128.12,362.53 L127.56,360.57 L127.21,358.59 L127.10,356.60 L127.21,354.61 L127.56,352.63 L128.12,350.67 L128.92,348.73 L129.93,346.83 L131.16,344.97 L132.60,343.15 L134.24,341.40 L136.08,339.71 L138.11,338.09 L140.33,336.56 L142.71,335.10 L145.26,333.74 L147.95,332.48 L150.79,331.32 L153.75,330.27 L156.83,329.34 L160.00,328.51 L163.27,327.81 L166.60,327.24 L170.00,326.78 L173.44,326.46 L176.91,326.27 L180.40,326.20 L183.89,326.27 L187.36,326.46 L190.80,326.78 L194.20,327.24 L197.53,327.81 L200.80,328.51 L203.97,329.34 L207.05,330.27 L210.01,331.32 L212.85,332.48 L215.54,333.74 L218.09,335.10 L220.47,336.56 L222.69,338.09 L224.72,339.71 L226.56,341.40 L228.20,343.15 L229.64,344.97 L230.87,346.83 L231.88,348.73 L232.68,350.67 L233.24,352.63 L233.59,354.61Z" fill="#ff1414"/>
<path d="M225.80,356.60 L225.70,358.21 L225.41,359.81 L224.93,361.40 L224.25,362.97 L223.39,364.51 L222.34,366.01 L221.12,367.48 L219.72,368.90 L218.15,370.27 L216.42,371.58 L214.53,372.82 L212.50,373.99 L210.33,375.10 L208.04,376.12 L205.62,377.05 L203.10,377.90 L200.48,378.66 L197.77,379.33 L194.99,379.89 L192.15,380.36 L189.26,380.73 L186.33,380.99 L183.37,381.15 L180.40,381.20 L177.43,381.15 L174.47,380.99 L171.54,380.73 L168.65,380.36 L165.81,379.89 L163.03,379.33 L160.32,378.66 L157.70,377.90 L155.18,377.05 L152.76,376.12 L150.47,375.10 L148.30,373.99 L146.27,372.82 L144.38,371.58 L142.65,370.27 L141.08,368.90 L139.68,367.48 L138.46,366.01 L137.41,364.51 L136.55,362.97 L135.87,361.40 L135.39,359.81 L135.10,358.21 L135.00,356.60 L135.10,354.99 L135.39,353.39 L135.87,351.80 L136.55,350.23 L137.41,348.69 L138.46,347.19 L139.68,345.72 L141.08,344.30 L142.65,342.93 L144.38,341.62 L146.27,340.38 L148.30,339.21 L150.47,338.10 L152.76,337.08 L155.18,336.15 L157.70,335.30 L160.32,334.54 L163.03,333.87 L165.81,333.31 L168.65,332.84 L171.54,332.47 L174.47,332.21 L177.43,332.05 L180.40,332.00 L183.37,332.05 L186.33,332.21 L189.26,332.47 L192.15,332.84 L194.99,333.31 L197.77,333.87 L200.48,334.54 L203.10,335.30 L205.62,336.15 L208.04,337.08 L210.33,338.10 L212.50,339.21 L214.53,340.38 L216.42,341.62 L218.15,342.93 L219.72,344.30 L221.12,345.72 L222.34,347.19 L223.39,348.69 L224.25,350.23 L224.93,351.80 L225.41,353.39 L225.70,354.99Z" fill="#fbfbfb"/>
<path d="M544.70,356.60 L544.47,360.65 L543.78,364.69 L542.63,368.70 L541.04,372.65 L538.99,376.53 L536.52,380.33 L533.61,384.02 L530.30,387.60 L526.58,391.05 L522.49,394.34 L518.02,397.48 L513.21,400.44 L508.08,403.21 L502.64,405.79 L496.92,408.15 L490.95,410.29 L484.75,412.21 L478.34,413.88 L471.75,415.31 L465.02,416.49 L458.17,417.41 L451.23,418.07 L444.23,418.47 L437.20,418.60 L430.17,418.47 L423.17,418.07 L416.23,417.41 L409.38,416.49 L402.65,415.31 L396.06,413.88 L389.65,412.21 L383.45,410.29 L377.48,408.15 L371.76,405.79 L366.32,403.21 L361.19,400.44 L356.38,397.48 L351.91,394.34 L347.82,391.05 L344.10,387.60 L340.79,384.02 L337.88,380.33 L335.41,376.53 L333.36,372.65 L331.77,368.70 L330.62,364.69 L329.93,360.65 L329.70,356.60 L329.93,352.55 L330.62,348.51 L331.77,344.50 L333.36,340.55 L335.41,336.67 L337.88,332.87 L340.79,329.18 L344.10,325.60 L347.82,322.15 L351.91,318.86 L356.38,315.72 L361.19,312.76 L366.32,309.99 L371.76,307.41 L377.48,305.05 L383.45,302.91 L389.65,300.99 L396.06,299.32 L402.65,297.89 L409.38,296.71 L416.23,295.79 L423.17,295.13 L430.17,294.73 L437.20,294.60 L444.23,294.73 L451.23,295.13 L458.17,295.79 L465.02,296.71 L471.75,297.89 L478.34,299.32 L484.75,300.99 L490.95,302.91 L496.92,305.05 L502.64,307.41 L508.08,309.99 L513.21,312.76 L518.02,315.72 L522.49,318.86 L526.58,322.15 L530.30,325.60 L533.61,329.18 L536.52,332.87 L538.99,336.67 L541.04,340.55 L542.63,344.50 L543.78,348.51 L544.47,352.55Z" fill="#1a66e8"/>
<path d="M536.20,356.60 L535.99,360.37 L535.35,364.12 L534.30,367.84 L532.83,371.51 L530.95,375.11 L528.66,378.64 L525.99,382.08 L522.94,385.40 L519.52,388.60 L515.74,391.66 L511.63,394.58 L507.20,397.33 L502.48,399.91 L497.47,402.30 L492.20,404.49 L486.70,406.48 L480.99,408.26 L475.09,409.82 L469.02,411.14 L462.82,412.24 L456.51,413.09 L450.12,413.71 L443.67,414.08 L437.20,414.20 L430.73,414.08 L424.28,413.71 L417.89,413.09 L411.58,412.24 L405.38,411.14 L399.31,409.82 L393.41,408.26 L387.70,406.48 L382.20,404.49 L376.93,402.30 L371.92,399.91 L367.20,397.33 L362.77,394.58 L358.66,391.66 L354.88,388.60 L351.46,385.40 L348.41,382.08 L345.74,378.64 L343.45,375.11 L341.57,371.51 L340.10,367.84 L339.05,364.12 L338.41,360.37 L338.20,356.60 L338.41,352.83 L339.05,349.08 L340.10,345.36 L341.57,341.69 L343.45,338.09 L345.74,334.56 L348.41,331.12 L351.46,327.80 L354.88,324.60 L358.66,321.54 L362.77,318.62 L367.20,315.87 L371.92,313.29 L376.93,310.90 L382.20,308.71 L387.70,306.72 L393.41,304.94 L399.31,303.38 L405.38,302.06 L411.58,300.96 L417.89,300.11 L424.28,299.49 L430.73,299.12 L437.20,299.00 L443.67,299.12 L450.12,299.49 L456.51,300.11 L462.82,300.96 L469.02,302.06 L475.09,303.38 L480.99,304.94 L486.70,306.72 L492.20,308.71 L497.47,310.90 L502.48,313.29 L507.20,315.87 L511.63,318.62 L515.74,321.54 L519.52,324.60 L522.94,327.80 L525.99,331.12 L528.66,334.56 L530.95,338.09 L532.83,341.69 L534.30,345.36 L535.35,349.08 L535.99,352.83Z" fill="#1fa2f4"/>
<path d="M521.70,356.60 L521.52,359.80 L520.98,363.00 L520.08,366.16 L518.82,369.28 L517.22,372.35 L515.27,375.35 L512.99,378.27 L510.38,381.10 L507.46,383.82 L504.24,386.43 L500.73,388.91 L496.95,391.25 L492.91,393.44 L488.64,395.47 L484.15,397.34 L479.45,399.04 L474.57,400.55 L469.54,401.87 L464.36,403.00 L459.07,403.93 L453.69,404.66 L448.23,405.18 L442.73,405.50 L437.20,405.60 L431.67,405.50 L426.17,405.18 L420.71,404.66 L415.33,403.93 L410.04,403.00 L404.86,401.87 L399.83,400.55 L394.95,399.04 L390.25,397.34 L385.76,395.47 L381.49,393.44 L377.45,391.25 L373.67,388.91 L370.16,386.43 L366.94,383.82 L364.02,381.10 L361.41,378.27 L359.13,375.35 L357.18,372.35 L355.58,369.28 L354.32,366.16 L353.42,363.00 L352.88,359.80 L352.70,356.60 L352.88,353.40 L353.42,350.20 L354.32,347.04 L355.58,343.92 L357.18,340.85 L359.13,337.85 L361.41,334.93 L364.02,332.10 L366.94,329.38 L370.16,326.77 L373.67,324.29 L377.45,321.95 L381.49,319.76 L385.76,317.73 L390.25,315.86 L394.95,314.16 L399.83,312.65 L404.86,311.33 L410.04,310.20 L415.33,309.27 L420.71,308.54 L426.17,308.02 L431.67,307.70 L437.20,307.60 L442.73,307.70 L448.23,308.02 L453.69,308.54 L459.07,309.27 L464.36,310.20 L469.54,311.33 L474.57,312.65 L479.45,314.16 L484.15,315.86 L488.64,317.73 L492.91,319.76 L496.95,321.95 L500.73,324.29 L504.24,326.77 L507.46,329.38 L510.38,332.10 L512.99,334.93 L515.27,337.85 L517.22,340.85 L518.82,343.92 L520.08,347.04 L520.98,350.20 L521.52,353.40Z" fill="#00f0ff"/>
<path d="M509.00,356.60 L508.85,359.47 L508.40,362.22 L507.65,364.92 L506.61,367.57 L505.28,370.15 L503.66,372.66 L501.77,375.10 L499.60,377.45 L497.17,379.71 L494.49,381.86 L491.56,383.91 L488.40,385.84 L485.02,387.64 L481.44,389.31 L477.67,390.84 L473.71,392.23 L469.59,393.47 L465.33,394.55 L460.93,395.48 L456.41,396.24 L451.78,396.83 L447.05,397.26 L442.22,397.51 L437.20,397.60 L432.18,397.51 L427.35,397.26 L422.62,396.83 L417.99,396.24 L413.47,395.48 L409.07,394.55 L404.81,393.47 L400.69,392.23 L396.73,390.84 L392.96,389.31 L389.38,387.64 L386.00,385.84 L382.84,383.91 L379.91,381.86 L377.23,379.71 L374.80,377.45 L372.63,375.10 L370.74,372.66 L369.12,370.15 L367.79,367.57 L366.75,364.92 L366.00,362.22 L365.55,359.47 L365.40,356.60 L365.55,353.73 L366.00,350.98 L366.75,348.28 L367.79,345.63 L369.12,343.05 L370.74,340.54 L372.63,338.10 L374.80,335.75 L377.23,333.49 L379.91,331.34 L382.84,329.29 L386.00,327.36 L389.38,325.56 L392.96,323.89 L396.73,322.36 L400.69,320.97 L404.81,319.73 L409.07,318.65 L413.47,317.72 L417.99,316.96 L422.62,316.37 L427.35,315.94 L432.18,315.69 L437.20,315.60 L442.22,315.69 L447.05,315.94 L451.78,316.37 L456.41,316.96 L460.93,317.72 L465.33,318.65 L469.59,319.73 L473.71,320.97 L477.67,322.36 L481.44,323.89 L485.02,325.56 L488.40,327.36 L491.56,329.29 L494.49,331.34 L497.17,333.49 L499.60,335.75 L501.77,338.10 L503.66,340.54 L505.28,343.05 L506.61,345.63 L507.65,348.28 L508.40,350.98 L508.85,353.73Z" fill="#00ffc8"/>
<path d="M506.30,356.60 L506.16,359.35 L505.72,361.99 L505.00,364.58 L504.00,367.11 L502.72,369.59 L501.16,372.00 L499.34,374.33 L497.25,376.59 L494.91,378.75 L492.33,380.82 L489.51,382.78 L486.48,384.63 L483.23,386.35 L479.78,387.96 L476.14,389.42 L472.34,390.75 L468.38,391.94 L464.27,392.98 L460.03,393.86 L455.68,394.59 L451.23,395.16 L446.68,395.57 L442.03,395.82 L437.20,395.90 L432.37,395.82 L427.72,395.57 L423.17,395.16 L418.72,394.59 L414.37,393.86 L410.13,392.98 L406.02,391.94 L402.06,390.75 L398.26,389.42 L394.62,387.96 L391.17,386.35 L387.92,384.63 L384.89,382.78 L382.07,380.82 L379.49,378.75 L377.15,376.59 L375.06,374.33 L373.24,372.00 L371.68,369.59 L370.40,367.11 L369.40,364.58 L368.68,361.99 L368.24,359.35 L368.10,356.60 L368.24,353.85 L368.68,351.21 L369.40,348.62 L370.40,346.09 L371.68,343.61 L373.24,341.20 L375.06,338.87 L377.15,336.61 L379.49,334.45 L382.07,332.38 L384.89,330.42 L387.92,328.57 L391.17,326.85 L394.62,325.24 L398.26,323.78 L402.06,322.45 L406.02,321.26 L410.13,320.22 L414.37,319.34 L418.72,318.61 L423.17,318.04 L427.72,317.63 L432.37,317.38 L437.20,317.30 L442.03,317.38 L446.68,317.63 L451.23,318.04 L455.68,318.61 L460.03,319.34 L464.27,320.22 L468.38,321.26 L472.34,322.45 L476.14,323.78 L479.78,325.24 L483.23,326.85 L486.48,328.57 L489.51,330.42 L492.33,332.38 L494.91,334.45 L497.25,336.61 L499.34,338.87 L501.16,341.20 L502.72,343.61 L504.00,346.09 L505.00,348.62 L505.72,351.21 L506.16,353.85Z" fill="#00ff82"/>
<path d="M502.50,356.60 L502.36,359.02 L501.94,361.43 L501.25,363.82 L500.27,366.18 L499.03,368.49 L497.53,370.76 L495.77,372.96 L493.75,375.10 L491.49,377.16 L489.01,379.12 L486.30,381.00 L483.37,382.76 L480.26,384.42 L476.95,385.95 L473.48,387.36 L469.85,388.64 L466.08,389.78 L462.19,390.78 L458.19,391.64 L454.10,392.34 L449.94,392.89 L445.72,393.28 L441.47,393.52 L437.20,393.60 L432.93,393.52 L428.68,393.28 L424.46,392.89 L420.30,392.34 L416.21,391.64 L412.21,390.78 L408.32,389.78 L404.55,388.64 L400.92,387.36 L397.45,385.95 L394.14,384.42 L391.03,382.76 L388.10,381.00 L385.39,379.12 L382.91,377.16 L380.65,375.10 L378.63,372.96 L376.87,370.76 L375.37,368.49 L374.13,366.18 L373.15,363.82 L372.46,361.43 L372.04,359.02 L371.90,356.60 L372.04,354.18 L372.46,351.77 L373.15,349.38 L374.13,347.02 L375.37,344.71 L376.87,342.44 L378.63,340.24 L380.65,338.10 L382.91,336.04 L385.39,334.08 L388.10,332.20 L391.03,330.44 L394.14,328.78 L397.45,327.25 L400.92,325.84 L404.55,324.56 L408.32,323.42 L412.21,322.42 L416.21,321.56 L420.30,320.86 L424.46,320.31 L428.68,319.92 L432.93,319.68 L437.20,319.60 L441.47,319.68 L445.72,319.92 L449.94,320.31 L454.10,320.86 L458.19,321.56 L462.19,322.42 L466.08,323.42 L469.85,324.56 L473.48,325.84 L476.95,327.25 L480.26,328.78 L483.37,330.44 L486.30,332.20 L489.01,334.08 L491.49,336.04 L493.75,338.10 L495.77,340.24 L497.53,342.44 L499.03,344.71 L500.27,347.02 L501.25,349.38 L501.94,351.77 L502.36,354.18Z" fill="#00f000"/>
<path d="M497.80,356.60 L497.67,358.86 L497.28,361.10 L496.64,363.33 L495.74,365.53 L494.58,367.69 L493.19,369.80 L491.55,371.86 L489.68,373.85 L487.59,375.77 L485.28,377.60 L482.76,379.35 L480.05,381.00 L477.16,382.54 L474.09,383.97 L470.87,385.29 L467.50,386.48 L464.00,387.54 L460.39,388.47 L456.68,389.27 L452.88,389.92 L449.02,390.44 L445.11,390.80 L441.16,391.03 L437.20,391.10 L433.24,391.03 L429.29,390.80 L425.38,390.44 L421.52,389.92 L417.72,389.27 L414.01,388.47 L410.40,387.54 L406.90,386.48 L403.53,385.29 L400.31,383.97 L397.24,382.54 L394.35,381.00 L391.64,379.35 L389.12,377.60 L386.81,375.77 L384.72,373.85 L382.85,371.86 L381.21,369.80 L379.82,367.69 L378.66,365.53 L377.76,363.33 L377.12,361.10 L376.73,358.86 L376.60,356.60 L376.73,354.34 L377.12,352.10 L377.76,349.87 L378.66,347.67 L379.82,345.51 L381.21,343.40 L382.85,341.34 L384.72,339.35 L386.81,337.43 L389.12,335.60 L391.64,333.85 L394.35,332.20 L397.24,330.66 L400.31,329.23 L403.53,327.91 L406.90,326.72 L410.40,325.66 L414.01,324.73 L417.72,323.93 L421.52,323.28 L425.38,322.76 L429.29,322.40 L433.24,322.17 L437.20,322.10 L441.16,322.17 L445.11,322.40 L449.02,322.76 L452.88,323.28 L456.68,323.93 L460.39,324.73 L464.00,325.66 L467.50,326.72 L470.87,327.91 L474.09,329.23 L477.16,330.66 L480.05,332.20 L482.76,333.85 L485.28,335.60 L487.59,337.43 L489.68,339.35 L491.55,341.34 L493.19,343.40 L494.58,345.51 L495.74,347.67 L496.64,349.87 L497.28,352.10 L497.67,354.34Z" fill="#a0ff00"/>
<path d="M495.20,356.60 L495.08,358.75 L494.70,360.89 L494.09,363.02 L493.22,365.12 L492.12,367.18 L490.79,369.19 L489.22,371.15 L487.43,373.05 L485.43,374.88 L483.21,376.63 L480.81,378.29 L478.21,379.86 L475.44,381.34 L472.51,382.70 L469.42,383.96 L466.20,385.09 L462.85,386.11 L459.40,387.00 L455.84,387.75 L452.21,388.38 L448.52,388.87 L444.77,389.22 L440.99,389.43 L437.20,389.50 L433.41,389.43 L429.63,389.22 L425.88,388.87 L422.19,388.38 L418.56,387.75 L415.00,387.00 L411.55,386.11 L408.20,385.09 L404.98,383.96 L401.89,382.70 L398.96,381.34 L396.19,379.86 L393.59,378.29 L391.19,376.63 L388.97,374.88 L386.97,373.05 L385.18,371.15 L383.61,369.19 L382.28,367.18 L381.18,365.12 L380.31,363.02 L379.70,360.89 L379.32,358.75 L379.20,356.60 L379.32,354.45 L379.70,352.31 L380.31,350.18 L381.18,348.08 L382.28,346.02 L383.61,344.01 L385.18,342.05 L386.97,340.15 L388.97,338.32 L391.19,336.57 L393.59,334.91 L396.19,333.34 L398.96,331.86 L401.89,330.50 L404.98,329.24 L408.20,328.11 L411.55,327.09 L415.00,326.20 L418.56,325.45 L422.19,324.82 L425.88,324.33 L429.63,323.98 L433.41,323.77 L437.20,323.70 L440.99,323.77 L444.77,323.98 L448.52,324.33 L452.21,324.82 L455.84,325.45 L459.40,326.20 L462.85,327.09 L466.20,328.11 L469.42,329.24 L472.51,330.50 L475.44,331.86 L478.21,333.34 L480.81,334.91 L483.21,336.57 L485.43,338.32 L487.43,340.15 L489.22,342.05 L490.79,344.01 L492.12,346.02 L493.22,348.08 L494.09,350.18 L494.70,352.31 L495.08,354.45Z" fill="#ffff00"/>
<path d="M492.20,356.60 L492.08,358.64 L491.73,360.67 L491.14,362.69 L490.33,364.68 L489.28,366.63 L488.01,368.54 L486.53,370.40 L484.83,372.20 L482.93,373.93 L480.83,375.59 L478.55,377.17 L476.09,378.66 L473.46,380.06 L470.68,381.35 L467.76,382.54 L464.70,383.62 L461.53,384.58 L458.25,385.43 L454.88,386.14 L451.44,386.74 L447.93,387.20 L444.38,387.53 L440.80,387.73 L437.20,387.80 L433.60,387.73 L430.02,387.53 L426.47,387.20 L422.96,386.74 L419.52,386.14 L416.15,385.43 L412.87,384.58 L409.70,383.62 L406.64,382.54 L403.72,381.35 L400.94,380.06 L398.31,378.66 L395.85,377.17 L393.57,375.59 L391.47,373.93 L389.57,372.20 L387.87,370.40 L386.39,368.54 L385.12,366.63 L384.07,364.68 L383.26,362.69 L382.67,360.67 L382.32,358.64 L382.20,356.60 L382.32,354.56 L382.67,352.53 L383.26,350.51 L384.07,348.52 L385.12,346.57 L386.39,344.66 L387.87,342.80 L389.57,341.00 L391.47,339.27 L393.57,337.61 L395.85,336.03 L398.31,334.54 L400.94,333.14 L403.72,331.85 L406.64,330.66 L409.70,329.58 L412.87,328.62 L416.15,327.77 L419.52,327.06 L422.96,326.46 L426.47,326.00 L430.02,325.67 L433.60,325.47 L437.20,325.40 L440.80,325.47 L444.38,325.67 L447.93,326.00 L451.44,326.46 L454.88,327.06 L458.25,327.77 L461.53,328.62 L464.70,329.58 L467.76,330.66 L470.68,331.85 L473.46,333.14 L476.09,334.54 L478.55,336.03 L480.83,337.61 L482.93,339.27 L484.83,341.00 L486.53,342.80 L488.01,344.66 L489.28,346.57 L490.33,348.52 L491.14,350.51 L491.73,352.53 L492.08,354.56Z" fill="#ffa000"/>
<path d="M490.50,356.60 L490.39,358.59 L490.04,360.57 L489.48,362.53 L488.68,364.47 L487.67,366.37 L486.44,368.23 L485.00,370.05 L483.36,371.80 L481.52,373.49 L479.49,375.11 L477.27,376.64 L474.89,378.10 L472.34,379.46 L469.65,380.72 L466.81,381.88 L463.85,382.93 L460.77,383.86 L457.60,384.69 L454.33,385.39 L451.00,385.96 L447.60,386.42 L444.16,386.74 L440.69,386.93 L437.20,387.00 L433.71,386.93 L430.24,386.74 L426.80,386.42 L423.40,385.96 L420.07,385.39 L416.80,384.69 L413.63,383.86 L410.55,382.93 L407.59,381.88 L404.75,380.72 L402.06,379.46 L399.51,378.10 L397.13,376.64 L394.91,375.11 L392.88,373.49 L391.04,371.80 L389.40,370.05 L387.96,368.23 L386.73,366.37 L385.72,364.47 L384.92,362.53 L384.36,360.57 L384.01,358.59 L383.90,356.60 L384.01,354.61 L384.36,352.63 L384.92,350.67 L385.72,348.73 L386.73,346.83 L387.96,344.97 L389.40,343.15 L391.04,341.40 L392.88,339.71 L394.91,338.09 L397.13,336.56 L399.51,335.10 L402.06,333.74 L404.75,332.48 L407.59,331.32 L410.55,330.27 L413.63,329.34 L416.80,328.51 L420.07,327.81 L423.40,327.24 L426.80,326.78 L430.24,326.46 L433.71,326.27 L437.20,326.20 L440.69,326.27 L444.16,326.46 L447.60,326.78 L451.00,327.24 L454.33,327.81 L457.60,328.51 L460.77,329.34 L463.85,330.27 L466.81,331.32 L469.65,332.48 L472.34,333.74 L474.89,335.10 L477.27,336.56 L479.49,338.09 L481.52,339.71 L483.36,341.40 L485.00,343.15 L486.44,344.97 L487.67,346.83 L488.68,348.73 L489.48,350.67 L490.04,352.63 L490.39,354.61Z" fill="#ff1414"/>
<path d="M482.60,356.60 L482.50,358.21 L482.21,359.81 L481.73,361.40 L481.05,362.97 L480.19,364.51 L479.14,366.01 L477.92,367.48 L476.52,368.90 L474.95,370.27 L473.22,371.58 L471.33,372.82 L469.30,373.99 L467.13,375.10 L464.84,376.12 L462.42,377.05 L459.90,377.90 L457.28,378.66 L454.57,379.33 L451.79,379.89 L448.95,380.36 L446.06,380.73 L443.13,380.99 L440.17,381.15 L437.20,381.20 L434.23,381.15 L431.27,380.99 L428.34,380.73 L425.45,380.36 L422.61,379.89 L419.83,379.33 L417.12,378.66 L414.50,377.90 L411.98,377.05 L409.56,376.12 L407.27,375.10 L405.10,373.99 L403.07,372.82 L401.18,371.58 L399.45,370.27 L397.88,368.90 L396.48,367.48 L395.26,366.01 L394.21,364.51 L393.35,362.97 L392.67,361.40 L392.19,359.81 L391.90,358.21 L391.80,356.60 L391.90,354.99 L392.19,353.39 L392.67,351.80 L393.35,350.23 L394.21,348.69 L395.26,347.19 L396.48,345.72 L397.88,344.30 L399.45,342.93 L401.18,341.62 L403.07,340.38 L405.10,339.21 L407.27,338.10 L409.56,337.08 L411.98,336.15 L414.50,335.30 L417.12,334.54 L419.83,333.87 L422.61,333.31 L425.45,332.84 L428.34,332.47 L431.27,332.21 L434.23,332.05 L437.20,332.00 L440.17,332.05 L443.13,332.21 L446.06,332.47 L448.95,332.84 L451.79,333.31 L454.57,333.87 L457.28,334.54 L459.90,335.30 L462.42,336.15 L464.84,337.08 L467.13,338.10 L469.30,339.21 L471.33,340.38 L473.22,341.62 L474.95,342.93 L476.52,344.30 L477.92,345.72 L479.14,347.19 L480.19,348.69 L481.05,350.23 L481.73,351.80 L482.21,353.39 L482.50,354.99Z" fill="#fbfbfb"/>
<path d="M153.29999999999998,366.3 a27.4,15.9 0 1,0 54.8,0 a27.4,15.9 0 1,0 -54.8,0 Z M158.29999999999998,366.3 a22.4,12.4 0 1,0 44.8,0 a22.4,12.4 0 1,0 -44.8,0 Z" fill="#f69a16" fill-rule="evenodd" stroke="#a86408" stroke-width="0.55"/>
<path d="M153.29999999999998,347.3 a27.4,15.9 0 1,0 54.8,0 a27.4,15.9 0 1,0 -54.8,0 Z M158.29999999999998,347.3 a22.4,12.4 0 1,0 44.8,0 a22.4,12.4 0 1,0 -44.8,0 Z" fill="#f69a16" fill-rule="evenodd" stroke="#a86408" stroke-width="0.55"/>
<path d="M180.7,367.3L180.7,349.3" stroke="#3a6cf0" stroke-width="1.1"/>
<path d="M180.7,343.3l-2.2,6h4.4z" fill="#3a6cf0"/>
<path d="M180.7,367.3L166.7,375.1" stroke="#f03030" stroke-width="0.8"/>
<path d="M162.7,377.3l2.2,-4.2l2,3.4z" fill="#e02020"/>
<path d="M180.7,367.3L194.7,375.1" stroke="#20a030" stroke-width="0.8"/>
<path d="M198.7,377.3l-2.2,-4.2l-2,3.4z" fill="#108020"/>
<text x="179.89999999999998" y="337.8" font-family='"Liberation Sans", sans-serif' font-size="7" fill="#4a7cf0" font-weight="normal" font-style="normal" text-anchor="start" >Z</text>
<text x="156.7" y="381.3" font-family='"Liberation Sans", sans-serif' font-size="5.5" fill="#f03030" font-weight="normal" font-style="normal" text-anchor="start" >Y</text>
<text x="200.7" y="380.3" font-family='"Liberation Sans", sans-serif' font-size="5.5" fill="#20a030" font-weight="normal" font-style="normal" text-anchor="start" >X</text>
<path d="M410.1,366.3 a27.4,15.9 0 1,0 54.8,0 a27.4,15.9 0 1,0 -54.8,0 Z M415.1,366.3 a22.4,12.4 0 1,0 44.8,0 a22.4,12.4 0 1,0 -44.8,0 Z" fill="#f69a16" fill-rule="evenodd" stroke="#a86408" stroke-width="0.55"/>
<path d="M410.1,347.3 a27.4,15.9 0 1,0 54.8,0 a27.4,15.9 0 1,0 -54.8,0 Z M415.1,347.3 a22.4,12.4 0 1,0 44.8,0 a22.4,12.4 0 1,0 -44.8,0 Z" fill="#f69a16" fill-rule="evenodd" stroke="#a86408" stroke-width="0.55"/>
<path d="M437.5,367.3L437.5,349.3" stroke="#3a6cf0" stroke-width="1.1"/>
<path d="M437.5,343.3l-2.2,6h4.4z" fill="#3a6cf0"/>
<path d="M437.5,367.3L423.5,375.1" stroke="#f03030" stroke-width="0.8"/>
<path d="M419.5,377.3l2.2,-4.2l2,3.4z" fill="#e02020"/>
<path d="M437.5,367.3L451.5,375.1" stroke="#20a030" stroke-width="0.8"/>
<path d="M455.5,377.3l-2.2,-4.2l-2,3.4z" fill="#108020"/>
<text x="436.7" y="337.8" font-family='"Liberation Sans", sans-serif' font-size="7" fill="#4a7cf0" font-weight="normal" font-style="normal" text-anchor="start" >Z</text>
<text x="413.5" y="381.3" font-family='"Liberation Sans", sans-serif' font-size="5.5" fill="#f03030" font-weight="normal" font-style="normal" text-anchor="start" >Y</text>
<text x="457.5" y="380.3" font-family='"Liberation Sans", sans-serif' font-size="5.5" fill="#20a030" font-weight="normal" font-style="normal" text-anchor="start" >X</text>
<text x="262" y="273.5" font-family='"Liberation Serif", serif' font-size="9.6" fill="#111" font-weight="bold" font-style="normal" text-anchor="start" textLength="87.3" lengthAdjust="spacingAndGlyphs" >Observation region</text>
<path d="M305.5,281.2L238,312.6" stroke="#111" stroke-width="1.45" stroke-dasharray="4.2 2.2" fill="none"/>
<path d="M305.5,281.2L378.5,313.8" stroke="#111" stroke-width="1.45" stroke-dasharray="4.2 2.2" fill="none"/>
<path d="M233,314.6l5.6,-6.0l2.2,4.9z" fill="#111"/>
<path d="M383.6,316.2l-8.2,-0.6l2.6,-5.0z" fill="#111"/>
<text x="95.2" y="440.5" font-family='"Liberation Serif", serif' font-size="9.7" fill="#111" font-weight="bold" font-style="normal" text-anchor="start" textLength="159.8" lengthAdjust="spacingAndGlyphs" >Magnetic field distribution (Conv.)</text>
<rect x="95.2" y="441.9" width="159.8" height="0.9" fill="#8a8a8a"/>
<text x="361.5" y="440.5" font-family='"Liberation Serif", serif' font-size="9.7" fill="#111" font-weight="bold" font-style="normal" text-anchor="start" textLength="155.4" lengthAdjust="spacingAndGlyphs" >Magnetic field distribution (Prop.)</text>
<rect x="361.5" y="441.9" width="155.4" height="0.9" fill="#8a8a8a"/>
<text x="266" y="504.8" font-family='"Liberation Serif", serif' font-size="13.8" fill="#111" font-weight="bold" font-style="normal" text-anchor="start" textLength="15.8" lengthAdjust="spacingAndGlyphs" >(c)</text>
</svg></body></html>
